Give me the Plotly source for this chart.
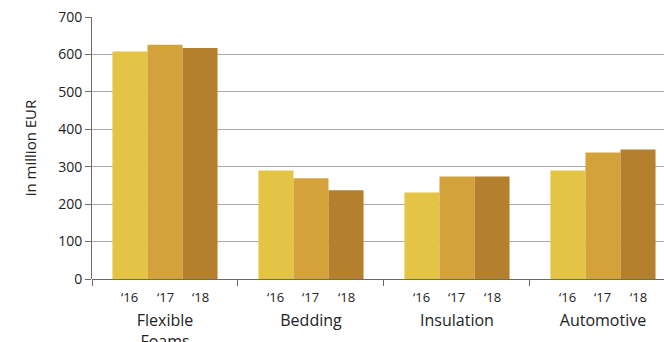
import plotly.graph_objects as go

categories = ["Flexible Foams", "Bedding", "Insulation", "Automotive"]
category_labels = ["Flexible<br>Foams", "Bedding", "Insulation", "Automotive"]
years = ["‘16", "‘17", "‘18"]
values_16 = [608, 290, 231, 290]
values_17 = [626, 269, 274, 338]
values_18 = [617, 237, 274, 346]
y_ticks = [0, 100, 200, 300, 400, 500, 600, 700]

colors = ["#E3C444", "#D4A23B", "#B5802D"]
series = [values_16, values_17, values_18]

FONT = "Open Sans"
AXIS_GREY = "#6b6b6b"
GRID_GREY = "#a9a9a9"

fig = go.Figure()
for name, vals, col in zip(years, series, colors):
    fig.add_trace(go.Bar(
        x=categories, y=vals, name=name,
        marker=dict(color=col, line=dict(width=0)),
        showlegend=False,
    ))

# Year labels under each bar of every group
group_frac = 0.72
bar_w = group_frac / len(years)
annotations = []
for ci, _ in enumerate(categories):
    for yi, yr in enumerate(years):
        annotations.append(dict(
            x=ci + (yi - 1) * bar_w, xref="x",
            y=0, yref="paper", yanchor="top", yshift=-7,
            text=yr, showarrow=False,
            font=dict(family=FONT, size=13, color="#222"),
        ))

fig.update_layout(
    width=664, height=342,
    margin=dict(l=92, r=0, t=17, b=63),
    paper_bgcolor="white", plot_bgcolor="white",
    barmode="group", bargap=1 - group_frac, bargroupgap=0,
    font=dict(family=FONT, color="#222"),
    annotations=annotations,
)
fig.update_xaxes(
    type="category", automargin=False,
    range=[-0.5, 3.418],
    tickmode="array", tickvals=categories, ticktext=category_labels,
    tickson="boundaries", ticks="outside", ticklen=6, tickcolor=AXIS_GREY,
    ticklabelstandoff=30,
    tickfont=dict(family=FONT, size=16, color="#222"),
    showline=False, showgrid=False, zeroline=False,
)
fig.update_yaxes(
    range=[0, 700], tickmode="array", tickvals=y_ticks, automargin=False,
    ticks="outside", ticklen=6, tickcolor=AXIS_GREY,
    showline=True, linecolor=AXIS_GREY, linewidth=1,
    showgrid=True, gridcolor=GRID_GREY, gridwidth=1.3,
    zeroline=True, zerolinecolor=AXIS_GREY, zerolinewidth=1,
    tickfont=dict(family=FONT, size=14, color="#222"),
    title=dict(text="in million EUR", font=dict(family=FONT, size=15, color="#222"), standoff=17),
)

fig.write_html("out.html")
